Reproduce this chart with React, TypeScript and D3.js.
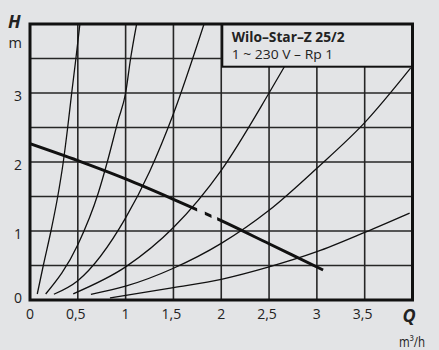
import React from "react";
import * as d3 from "d3";

// ---- data ----
const xTickValues = [0, 0.5, 1, 1.5, 2, 2.5, 3, 3.5];
const xTickLabels = ["0", "0,5", "1", "1,5", "2", "2,5", "3", "3,5"];
const yTickValues = [0, 1, 2, 3];
const yTickLabels = ["0", "1", "2", "3"];
const qGrid = [0.5, 1, 1.5, 2, 2.5, 3, 3.5];
const hGrid = [0.5, 1, 1.5, 2, 2.5, 3, 3.5];

// system curves [Q, H]
const sys1: [number, number][] = [[0.076, 0.087], [0.139, 0.5], [0.219, 1.0], [0.29, 1.5], [0.348, 2.0], [0.394, 2.5], [0.436, 3.0], [0.48, 3.5], [0.522, 4.0]];
const sys2: [number, number][] = [[0.164, 0.087], [0.5, 0.8], [0.714, 1.55], [0.808, 2.0], [0.923, 2.61], [1.0, 3.0], [1.052, 3.5], [1.115, 4.0]];
const sys3: [number, number][] = [[0.25, 0.083], [0.5, 0.28], [1.0, 1.19], [1.25, 1.86], [1.5, 2.7], [1.82, 4.0]];
const sys4: [number, number][] = [[0.452, 0.09], [1.0, 0.48], [1.5, 1.05], [2.0, 1.88], [2.5, 3.0], [2.66, 3.38]];
const sys5: [number, number][] = [[0.637, 0.083], [1.0, 0.2], [1.5, 0.46], [2.0, 0.82], [2.5, 1.3], [3.0, 1.91], [3.5, 2.57], [3.98, 3.36]];
const sys6: [number, number][] = [[0.836, 0.03], [1.5, 0.18], [2.0, 0.3], [2.5, 0.48], [3.0, 0.7], [3.5, 0.98], [3.97, 1.26]];
const systemCurves = [sys1, sys2, sys3, sys4, sys5, sys6];

// pump curve [Q, H]
const pump: [number, number][] = [[0, 2.265], [0.5, 2.02], [1.0, 1.755], [1.5, 1.46], [2.0, 1.15], [2.5, 0.815], [3.065, 0.435]];
// visible (solid / dash) Q ranges of the pump curve
const pumpVisible: [number, number][] = [[0, 1.748], [1.828, 1.898], [1.957, 3.1]];

const titleLine1 = "Wilo–Star–Z 25/2";
const titleLine2 = "1 ~ 230 V – Rp 1";

export default function App() {
  const W = 439, H = 350;
  const bg = "#e3e4e6";
  const ink = "#111";
  const textCol = "#222";
  const font = "'Open Sans', 'Noto Sans', sans-serif";

  const x = d3.scaleLinear().domain([0, 4]).range([30, 412.5]);
  const y = d3.scaleLinear().domain([0, 4]).range([300, 24]);

  const line = d3
    .line<[number, number]>()
    .x((d) => x(d[0]))
    .y((d) => y(d[1]))
    .curve(d3.curveMonotoneX);

  const pumpLine = d3
    .line<[number, number]>()
    .x((d) => x(d[0]))
    .y((d) => y(d[1]))
    .curve(d3.curveCatmullRom);

  const boxX = 222.3, boxBottom = 66.7;

  return (
    <svg
      width={W}
      height={H}
      viewBox={`0 0 ${W} ${H}`}
      style={{ position: "absolute", left: 0, top: 0, display: "block" }}
    >
      <defs>
        <clipPath id="plotClip">
          <rect x={x(0)} y={y(4)} width={x(4) - x(0)} height={y(0) - y(4)} />
        </clipPath>
        <clipPath id="pumpClip">
          {pumpVisible.map(([a, b], i) => (
            <rect key={i} x={x(a)} y={0} width={x(b) - x(a)} height={H} />
          ))}
        </clipPath>
      </defs>
      <rect x={0} y={0} width={W} height={H} fill={bg} />

      {/* grid */}
      <g stroke="#262626" strokeWidth={1.6}>
        {qGrid.map((q) => (
          <line key={"q" + q} x1={x(q)} x2={x(q)} y1={y(0)} y2={y(4)} />
        ))}
        {hGrid.map((h) => (
          <line key={"h" + h} x1={x(0)} x2={x(4)} y1={y(h)} y2={y(h)} />
        ))}
      </g>

      {/* system curves */}
      <g clipPath="url(#plotClip)" fill="none" stroke={ink} strokeWidth={1.3}>
        {systemCurves.map((c, i) => (
          <path key={i} d={line(c) || ""} />
        ))}
      </g>

      {/* pump curve */}
      <path
        d={pumpLine(pump) || ""}
        fill="none"
        stroke={ink}
        strokeWidth={3}
        clipPath="url(#pumpClip)"
      />

      {/* legend box */}
      <rect
        x={boxX}
        y={y(4)}
        width={x(4) - boxX}
        height={boxBottom - y(4)}
        fill={bg}
        stroke={ink}
        strokeWidth={2}
      />
      <text x={231.7} y={42.3} fontFamily={font} fontWeight="bold" fontSize={14} fill={textCol} textLength={113} lengthAdjust="spacingAndGlyphs">
        {titleLine1}
      </text>
      <text x={231.7} y={59.3} fontFamily={font} fontSize={13.5} fill={textCol} textLength={101.6} lengthAdjust="spacingAndGlyphs">
        {titleLine2}
      </text>

      {/* frame */}
      <rect x={x(0)} y={y(4)} width={x(4) - x(0)} height={y(0) - y(4)} fill="none" stroke={ink} strokeWidth={3} />

      {/* y ticks */}
      {yTickValues.map((v, i) => (
        <text key={"yt" + v} x={22} y={y(v) + (v === 0 ? 3.3 : 7.5)} textAnchor="end" fontFamily={font} fontSize={14} fill={textCol}>
          {yTickLabels[i]}
        </text>
      ))}
      {/* x ticks */}
      {xTickValues.map((v, i) => (
        <text key={"xt" + v} x={x(v) - (xTickLabels[i].includes(",") ? 2 : 0)} y={319.3} textAnchor="middle" fontFamily={font} fontSize={14} fill={textCol}>
          {xTickLabels[i]}
        </text>
      ))}

      {/* axis titles */}
      <text x={8} y={27.5} fontFamily={font} fill={textCol} fontWeight="bold" fontStyle="italic" fontSize={18}>H</text>
      <text x={8.5} y={48.3} fontFamily={font} fill={textCol} fontSize={14.5}>m</text>
      <text x={402.5} y={321.5} fontFamily={font} fill={textCol} fontWeight="bold" fontStyle="italic" fontSize={18}>Q</text>
      <text x={399} y={346.5} fontFamily={font} fill={textCol} fontSize={14} textLength={26} lengthAdjust="spacingAndGlyphs">m³/h</text>
    </svg>
  );
}
